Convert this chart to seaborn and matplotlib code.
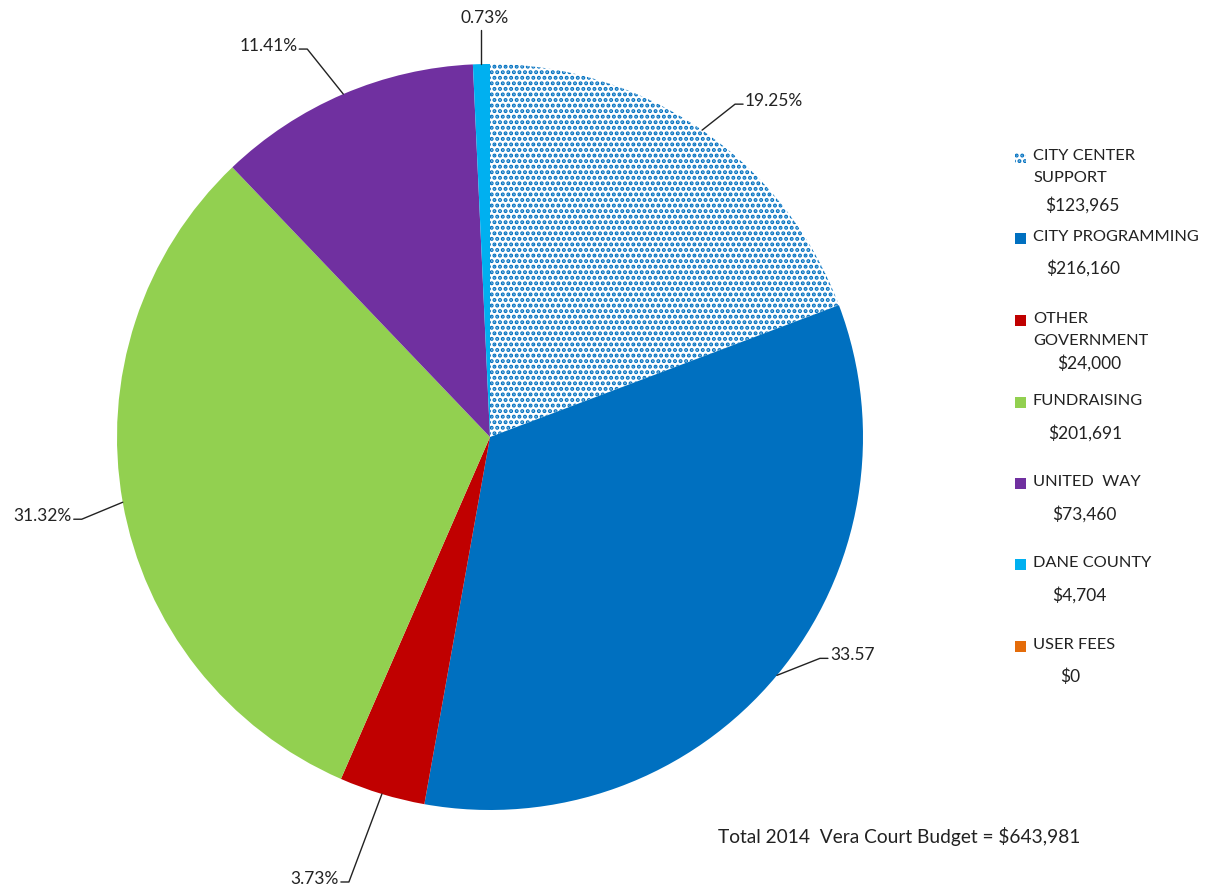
import numpy as np
import matplotlib.pyplot as plt
import seaborn as sns
from matplotlib.patches import Rectangle

# data
categories = ["CITY CENTER\nSUPPORT", "CITY PROGRAMMING", "OTHER\nGOVERNMENT",
              "FUNDRAISING", "UNITED  WAY", "DANE COUNTY", "USER FEES"]
amounts = [123965, 216160, 24000, 201691, 73460, 4704, 0]
pct_labels = ["19.25%", "33.57", "3.73%", "31.32%", "11.41%", "0.73%", ""]
total_label = "Total 2014  Vera Court Budget = $643,981"

colors = ["#0070C0", "#0070C0", "#C00000", "#92D050", "#7030A0", "#00B0F0", "#E46C0A"]

sns.set_theme(style="white")
plt.rcParams["font.family"] = ["Lato", "DejaVu Sans"]
plt.rcParams["hatch.linewidth"] = 2.0

W, H = 1208, 886
fig = plt.figure(figsize=(W / 100, H / 100), dpi=100)


def fx(x):
    return x / W


def fy(y):
    return 1 - y / H


# pie axes: centre (490, 437), radius 373 px
cx, cy, r = 490, 437, 373
ax = fig.add_axes([fx(cx - r), fy(cy + r), 2 * r / W, 2 * r / H])
wedges, _ = ax.pie(
    amounts,
    colors=colors,
    startangle=90,
    counterclock=False,
    wedgeprops=dict(linewidth=0),
)
wedges[0].set_facecolor("white")
wedges[0].set_edgecolor("#0070C0")
wedges[0].set_hatch("...")
ax.set_xlim(-1, 1)
ax.set_ylim(-1, 1)
ax.set_aspect("equal")
ax.axis("off")

# label anchor offsets (pixels from wedge edge) and alignment
label_style = [
    ((43, 29), "left"),
    ((53, 20), "left"),
    ((-43, -85), "right"),
    ((-51, -14), "right"),
    ((-46, 48), "right"),
    ((3, 34), "center"),
]

px = 1 / r  # one pixel in data units
for w, lab, ((dx, dy), ha) in zip(wedges, pct_labels, label_style):
    ang = np.deg2rad((w.theta1 + w.theta2) / 2)
    x0, y0 = np.cos(ang), np.sin(ang)
    tx, ty = x0 + dx * px, y0 + dy * px
    if ha == "center":
        ax.plot([x0, x0], [y0, ty], color="#222222", lw=1, clip_on=False)
        ax.text(tx, ty + 4 * px, lab, ha="center", va="bottom", fontsize=12.5,
                color="#222222", clip_on=False)
        continue
    sgn = 1 if ha == "left" else -1
    ex, lx = tx - sgn * 10 * px, tx - sgn * 2 * px
    ax.plot([x0, ex, lx], [y0, ty - 3 * px, ty - 3 * px], color="#222222", lw=1,
            clip_on=False)
    ax.text(tx, ty, lab, ha=ha, va="center", fontsize=12.5, color="#222222",
            clip_on=False)

# legend drawn by hand
entry_y = [157, 238, 320, 402, 483, 564, 646]
value_y = [205, 268, 363, 433, 514, 595, 677]
value_x = [1045, 1046, 1057, 1048, 1052, 1052, 1060]
for i, (name, amt, col) in enumerate(zip(categories, amounts, colors)):
    y = entry_y[i]
    sq = Rectangle((fx(1015), fy(y + 6)), 11 / W, 11 / H, transform=fig.transFigure,
                   facecolor=col, edgecolor="none", lw=0)
    if i == 0:
        sq.set_facecolor("white")
        sq.set_edgecolor("#0070C0")
        sq.set_hatch("...")
    fig.add_artist(sq)
    fig.text(fx(1033), fy(y - 8), name, ha="left", va="top", fontsize=11.8,
             color="#222222", linespacing=1.7)
    fig.text(fx(value_x[i]), fy(value_y[i]), f"${amt:,}", ha="left", va="center",
             fontsize=12.5, color="#222222")

fig.text(fx(718), fy(836), total_label, ha="left", va="center", fontsize=13.8,
         color="#222222")

fig.savefig("out.png", dpi=100, facecolor="white")
